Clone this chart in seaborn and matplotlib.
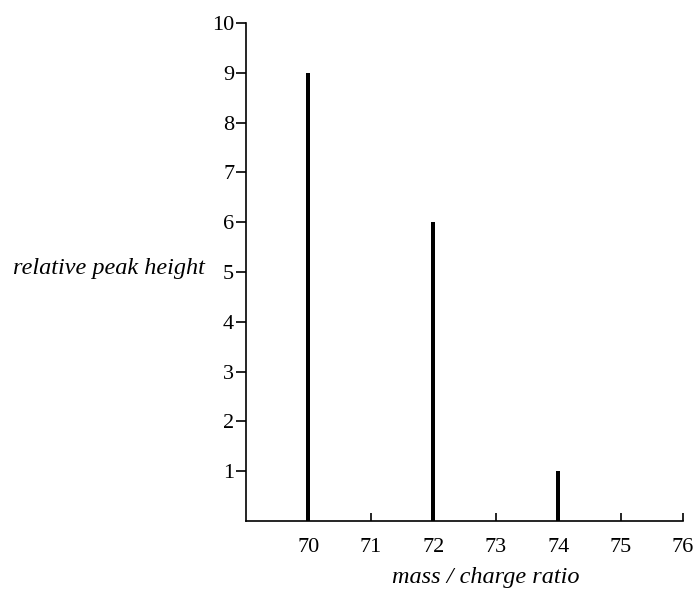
import matplotlib
matplotlib.use("Agg")
import matplotlib.pyplot as plt
import seaborn as sns
import pandas as pd

mass_charge = [70, 72, 74]
peak_height = [9, 6, 1]
x_ticks = [70, 71, 72, 73, 74, 75, 76]
y_ticks = [1, 2, 3, 4, 5, 6, 7, 8, 9, 10]

sns.set_theme(style="ticks")
plt.rcParams['font.family'] = ['Liberation Serif', 'DejaVu Serif']
plt.rcParams['text.color'] = 'black'
plt.rcParams['axes.labelcolor'] = 'black'

df = pd.DataFrame({"mz": mass_charge, "h": peak_height})

fig = plt.figure(figsize=(6.98, 5.93), dpi=100)
ax = fig.add_axes([246/698, 1-521/593, (683-246)/698, (521-23)/593])

sns.barplot(data=df, x="mz", y="h", native_scale=True, width=0.032,
            color="black", saturation=1, edgecolor="black", linewidth=0, ax=ax)

ax.set_xlim(69, 76)
ax.set_ylim(0, 10)
ax.set_xticks(x_ticks)
ax.set_yticks(y_ticks)
ax.set_xticklabels([str(v) for v in x_ticks])
ax.set_yticklabels([str(v) for v in y_ticks])

for s in ["top", "right"]:
    ax.spines[s].set_visible(False)
for s in ["left", "bottom"]:
    ax.spines[s].set_linewidth(1.2)
    ax.spines[s].set_color("black")

ax.tick_params(axis="y", direction="out", length=7, width=1.2, pad=1.5,
               labelsize=16, colors="black")
ax.tick_params(axis="x", direction="in", length=6, width=1.2, pad=12,
               labelsize=16, colors="black")

ax.set_xlabel("mass / charge ratio", fontsize=17.5, style="italic",
              va="center", color="black")
ax.xaxis.set_label_coords(0.549, -0.113)
ax.set_ylabel("relative peak height", fontsize=17.5, style="italic",
              rotation=0, ha="right", va="center", color="black")
ax.yaxis.set_label_coords(-0.094, 0.508)

fig.savefig("out.png", dpi=100, facecolor="white")
